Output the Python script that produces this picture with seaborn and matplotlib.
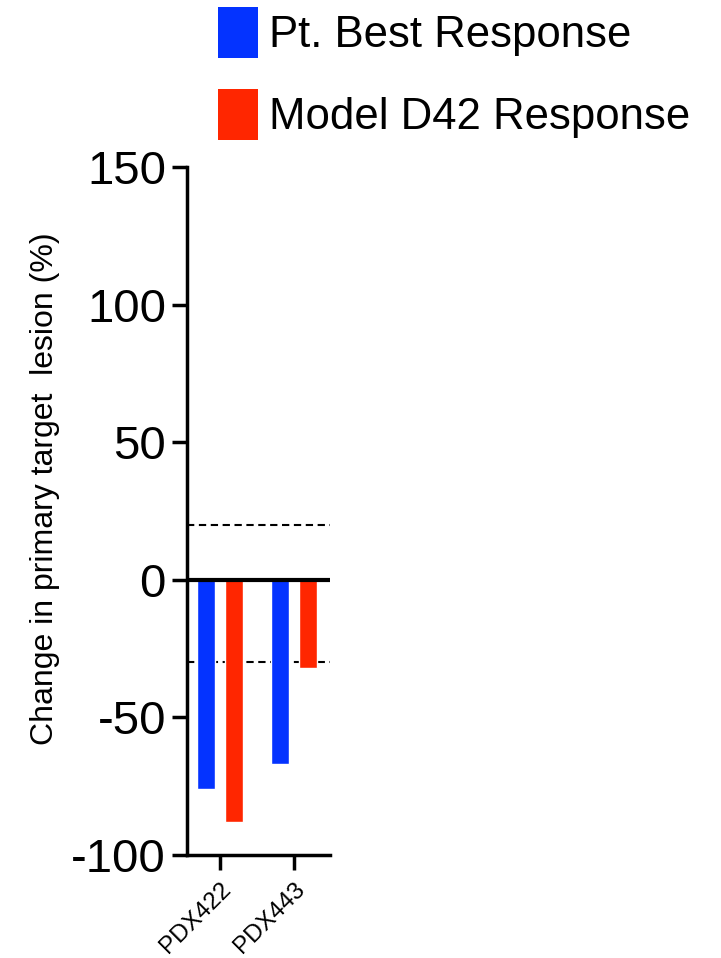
import numpy as np
import pandas as pd
import seaborn as sns
import matplotlib.pyplot as plt
from matplotlib.patches import Patch

# Values
samples = ["PDX422", "PDX443"]
pt_best = [-76, -67]
model_d42 = [-88, -32]
series_names = ["Pt. Best Response", "Model D42 Response"]
colors = ["#0433FF", "#FF2600"]
y_ticks = [150, 100, 50, 0, -50, -100]
ref_lines = [20, -30]

# long format table for seaborn
df = pd.DataFrame({
    "Sample": samples * 2,
    "Response": [series_names[0]] * 2 + [series_names[1]] * 2,
    "Value": pt_best + model_d42,
})

sns.set_style("ticks")
plt.rcParams["font.family"] = ["Liberation Sans", "DejaVu Sans"]
plt.rcParams["text.color"] = "black"
plt.rcParams["axes.labelcolor"] = "black"
plt.rcParams["xtick.color"] = "black"
plt.rcParams["ytick.color"] = "black"
plt.rcParams["axes.edgecolor"] = "black"

fig = plt.figure(figsize=(7.21, 9.58), dpi=100)
ax = fig.add_axes([0.259, 0.1075, 0.199, 0.718])

# dashed reference lines behind the bars
for v in ref_lines:
    ax.axhline(v, color="black", lw=1.5, dashes=(3.5, 2.2), zorder=0)

sns.barplot(data=df, x="Sample", y="Value", hue="Response", palette=colors,
            width=0.757, gap=0.357, saturation=1, legend=False, ax=ax, zorder=2)

ax.axhline(0, color="black", lw=3, zorder=3)

ax.set_ylim(-100, 150)
ax.set_xlim(-0.446, 1.486)
ax.set_yticks(y_ticks)
ax.set_yticklabels([str(t) for t in y_ticks], fontsize=34)
ax.set_xticks(range(len(samples)))
ax.set_xticklabels(samples, rotation=45, ha="right", rotation_mode="anchor", fontsize=17.5)
ax.set_xlabel("")
ax.set_ylabel("Change in primary target  lesion (%)", fontsize=23)
ax.yaxis.set_label_coords(-0.88, 0.533)

sns.despine(ax=ax)
for side in ["left", "bottom"]:
    ax.spines[side].set_linewidth(2.5)
ax.tick_params(axis="both", length=11, width=2.5, color="black")
ax.tick_params(axis="y", pad=4)
ax.tick_params(axis="x", pad=6)

handles = [Patch(facecolor=c, edgecolor="none") for c in colors]
fig.legend(handles, series_names, loc="upper left", bbox_to_anchor=(0.302, 0.993),
           frameon=False, fontsize=31.5, handlelength=0.91, handleheight=1.42,
           handletextpad=0.27, labelspacing=0.72, borderpad=0, borderaxespad=0)

fig.savefig("out.png", dpi=100)
